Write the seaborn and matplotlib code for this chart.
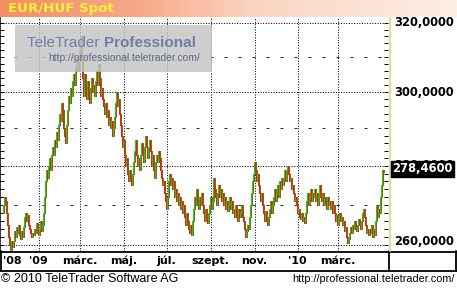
import numpy as np
import pandas as pd
import matplotlib
matplotlib.use("Agg")
import matplotlib.pyplot as plt
import matplotlib.transforms as mtrans
from matplotlib.lines import Line2D
from matplotlib.patches import Rectangle
from matplotlib.collections import LineCollection
from matplotlib.ticker import FixedLocator, NullFormatter, NullLocator
import seaborn as sns

sns.set_theme(style="white")
plt.rcParams["font.family"] = ["DejaVu Sans"]

# ---------------- data (EUR/HUF spot, daily closes) ----------------
first_open = 268.0
closes = [
    270, 272, 271, 268, 265, 262, 260, 259, 261, 259.5,
    261, 263.5, 262, 264.5, 263, 265, 262.5, 261.5, 263.5, 262,
    264.5, 267, 268, 266, 267.5, 265, 264, 263, 262, 263,
    262.5, 264, 263, 265.5, 264, 262.5, 264, 266, 263.5, 265,
    268, 272, 276, 279, 277, 280, 282, 279, 283, 285,
    283, 287, 285, 289, 287, 291, 294, 292, 297, 295,
    290, 288, 286, 291, 295, 299, 297, 301, 299, 303,
    305, 302, 307, 310, 306, 309, 312, 316, 309, 304,
    299, 305, 301, 298, 303, 300, 297, 301, 304, 300,
    302, 299, 303, 306, 302, 308, 304, 299, 301, 298,
    296, 294, 297, 293, 295, 291, 293, 290, 292, 288,
    290, 293, 297, 300, 296, 298, 294, 291, 288, 285,
    287, 283, 280, 282, 278, 276, 279, 277, 275, 278,
    281, 284, 287, 283, 280, 282, 279, 283, 286, 284,
    281, 285, 288, 285, 282, 285, 287, 284, 280, 283,
    279, 277, 281, 283, 281, 284, 282, 279, 277, 275,
    276, 273, 271, 269, 272, 276, 278, 275, 277, 274,
    276, 272, 274, 271, 273, 270, 272, 269, 271, 268,
    270, 267, 265, 268, 266, 264, 263, 265, 262.5, 266,
    269, 272, 270, 274, 271, 269, 272, 270, 273, 270,
    268, 266, 269, 267, 265.5, 268, 270, 272, 269, 271,
    277, 274, 272, 270, 273, 275, 272, 274, 271, 273,
    270, 272, 269, 271, 268.5, 270, 272, 269, 271, 268,
    269, 267, 270, 268, 266, 269, 267, 268, 270, 267,
    266, 264, 262, 263.5, 265, 264, 267, 270, 273, 276,
    278, 281, 279, 276, 278, 275, 273, 271, 273, 270,
    268, 266, 268.5, 266, 265, 267, 269, 271, 268, 270,
    272, 274, 271, 273, 275, 272, 276, 274, 277, 275,
    277, 279, 276, 279, 280, 278, 276, 277, 274, 275,
    273, 271, 272, 270, 268, 269, 267, 266.5, 268, 266,
    267, 265.5, 268, 271, 273, 270, 272, 274, 271, 273,
    272, 274, 271, 273, 270, 272, 275, 273, 271, 273,
    270, 272, 271, 269, 272, 270, 271, 269, 271, 268,
    270, 268, 266, 267.5, 265, 266.5, 268, 266, 267, 265,
    266, 263.5, 264.5, 262, 260.5, 261.5, 263, 264.5, 263, 265,
    264, 266, 265, 263.5, 265, 266.5, 265, 264, 266, 268,
    269, 267, 265, 263, 264, 262.5, 264, 263, 265, 262,
    264, 262.5, 266, 270, 267, 269, 268, 272, 275, 279, 278.46,
]
holidays = ["2008-12-25", "2009-01-01", "2009-12-25", "2010-01-01"]
tick_dates = ["2008-11-25", "2009-01-02", "2009-03-02", "2009-05-01", "2009-07-01",
              "2009-09-01", "2009-11-02", "2010-01-04", "2010-03-01"]
tick_labels = ["'08", "'09", "márc.", "máj.", "júl.", "szept.", "nov.", "'10", "márc."]
ytick_vals = [260, 280, 300, 320]
ydash_vals = [270, 290, 310]
last_price = closes[-1]

dates = pd.bdate_range("2008-11-12", periods=len(closes), freq="C", holidays=holidays)
df = pd.DataFrame({"date": dates, "close": closes})
df["open"] = [first_open] + closes[:-1]
df["x"] = np.arange(len(df))
tick_pos = dates.searchsorted(pd.to_datetime(tick_dates))

# ---------------- figure ----------------
W, H = 457, 288
fig = plt.figure(figsize=(W / 100, H / 100), dpi=100)
fig.patch.set_facecolor("white")


def fx(x):
    return x / W


def fy(y):
    return 1 - y / H


# title band with gradient
tax = fig.add_axes([0, fy(17), 1, 17 / H])
stops = [0.0, 0.3, 0.55, 1.0]
rgb = np.array([[244, 142, 100], [247, 168, 134], [251, 212, 192], [254, 238, 230]]) / 255
xs = np.linspace(0, 1, 300)
grad = np.stack([np.interp(xs, stops, rgb[:, k]) for k in range(3)], axis=-1)[None, :, :]
tax.imshow(grad, aspect="auto", extent=[0, 1, 0, 1])
tax.set_axis_off()
fig.text(fx(8), fy(8.5), "EUR/HUF Spot", color="#F8F238", fontsize=9.6,
         fontweight="bold", va="center", ha="left")

# main plot axes
ax = fig.add_axes([0, fy(251), 388 / W, (251 - 17.5) / H])
ax.set_facecolor("white")
ax.set_yscale("log")
ax.set_ylim(258.65, 321.6)
ax.set_xlim(-3, 385)
ax.grid(False)

for v in ytick_vals:
    ax.axhline(v, color="black", lw=0.72, ls=(0, (1, 1.6)), zorder=1)
for v in ydash_vals:
    ax.axhline(v, color="#2a2a2a", lw=0.72, ls=(0, (3, 11)), zorder=1)
for p in tick_pos[1:]:
    ax.axvline(p + 0.5, color="black", lw=0.72, ls=(0, (1, 1.6)), zorder=1)

# candles: green/red body column + olive shadow column, drawn bar by bar
olive, green, red = "#86650F", "#1FCB1F", "#EE1B1B"
segs, cols = [], []
for x, o, c in zip(df["x"], df["open"], df["close"]):
    lo, hi = min(o, c), max(o, c)
    segs.append([(x - 0.5, lo), (x - 0.5, hi)])
    cols.append(green if c >= o else red)
    segs.append([(x + 0.5, lo), (x + 0.5, hi)])
    cols.append(olive)
ax.add_collection(LineCollection(segs, colors=cols, linewidths=0.68,
                                 antialiased=False, zorder=3))

for s in ["top", "right", "bottom"]:
    ax.spines[s].set_visible(False)
ax.spines["left"].set_color("black")
ax.spines["left"].set_linewidth(1.1)
ax.yaxis.set_major_locator(FixedLocator(np.arange(258, 322, 2)))
ax.yaxis.set_major_formatter(NullFormatter())
ax.yaxis.set_minor_locator(NullLocator())
ax.xaxis.set_major_locator(NullLocator())
ax.xaxis.set_minor_locator(NullLocator())
ax.tick_params(axis="y", which="major", direction="in", length=3, width=0.72,
               color="black", left=True, right=True, labelleft=False, labelright=False)

# watermark
fig.add_artist(Rectangle((fx(15), fy(72)), 197 / W, 47 / H, transform=fig.transFigure,
                         facecolor="#C4C4C4", edgecolor="none", alpha=0.82, zorder=5))
t1 = fig.text(fx(27), fy(43), "TeleTrader ", family="Liberation Sans", fontsize=11,
              color="#6E7EA6", va="center", ha="left", zorder=6)
fig.canvas.draw()
bb = t1.get_window_extent()
fig.text(bb.x1 / W, fy(43), "Professional", family="Liberation Sans", fontsize=11,
         fontweight="bold", color="#6E7EA6", va="center", ha="left", zorder=6)
fig.text(fx(48), fy(58), "http://professional.teletrader.com/", family="Liberation Sans",
         fontsize=7.4, color="#5E6A8C", va="center", ha="left", zorder=6)

# right price panel
trans = mtrans.blended_transform_factory(fig.transFigure, ax.transData)


def fmt(v):
    return f"{v:.4f}".replace(".", ",")


for v in ytick_vals:
    off = mtrans.ScaledTranslation(0, (4 if v == min(ytick_vals) else 0) / 100,
                                   fig.dpi_scale_trans)
    fig.text(fx(394), v, fmt(v), transform=trans + off, fontsize=8.3,
             fontweight="bold", color="black", va="center", ha="left", zorder=4)
fig.text(fx(392), last_price, fmt(last_price),
         transform=trans + mtrans.ScaledTranslation(0, 3 / 100, fig.dpi_scale_trans),
         fontsize=8.3, fontweight="bold", color="white", va="center", ha="left",
         bbox=dict(boxstyle="square,pad=0.12", facecolor="black", edgecolor="black"),
         zorder=10)

# x label band
xtrans = mtrans.blended_transform_factory(ax.transData, fig.transFigure)
for p, lab in zip(tick_pos, tick_labels):
    fig.text(p + 0.5, fy(261), lab, transform=xtrans, fontsize=8, fontweight="bold",
             color="black", ha="center", va="center")


def hl(y, x0, x1, lw=1.3, color="black"):
    fig.add_artist(Line2D([fx(x0), fx(x1)], [fy(y), fy(y)], transform=fig.transFigure,
                          color=color, lw=lw, zorder=8))


def vl(x, y0, y1, lw=1.3, color="black"):
    fig.add_artist(Line2D([fx(x), fx(x)], [fy(y0), fy(y1)], transform=fig.transFigure,
                          color=color, lw=lw, zorder=8))


hl(251.5, 0, 457)
hl(270.5, 0, 457)
vl(0.6, 251, 271)
vl(388.6, 251, 271)
vl(456.4, 251, 271)
vl(389.6, 17.5, 251, lw=1.4, color="#E6D898")

# footer
fig.text(fx(1), fy(279.5), "© 2010 TeleTrader Software AG", family="Liberation Sans",
         fontsize=9, color="black", ha="left", va="center")
fig.text(fx(455), fy(279.5), "http://professional.teletrader.com/", family="Liberation Sans",
         fontsize=7.8, color="black", ha="right", va="center")

fig.savefig("out.png", dpi=100, facecolor="white")
